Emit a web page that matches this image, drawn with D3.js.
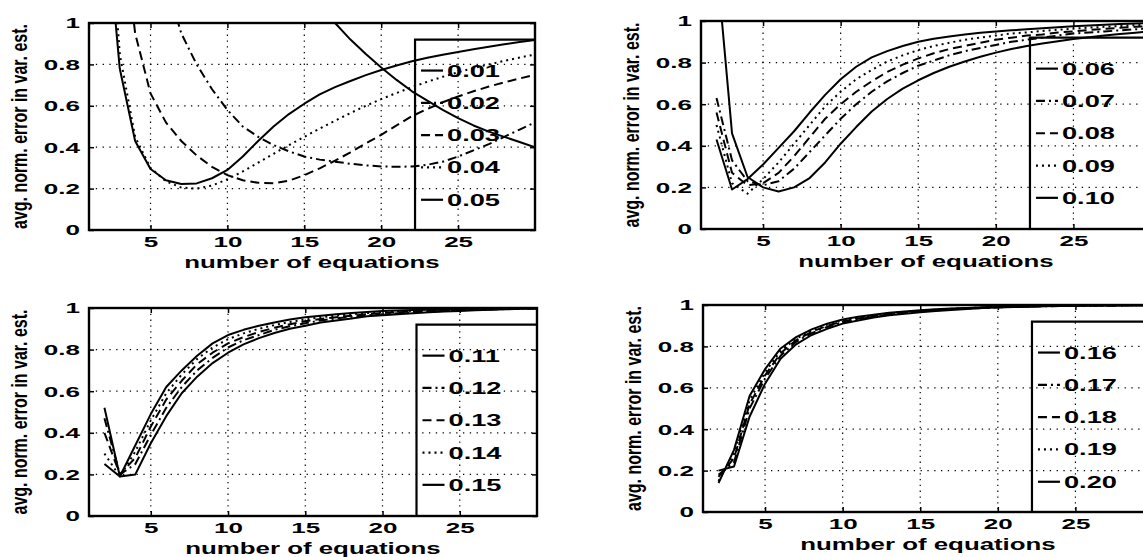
<!DOCTYPE html>
<html>
<head>
<meta charset="utf-8">
<script src="https://cdn.jsdelivr.net/npm/d3@7"></script>
<style>
  html, body { margin: 0; background: #fff; }
  svg { display: block; }
</style>
</head>
<body>
<div id="chart"></div>
<script>
// number of equations (x) and axis ticks
const equations = [2,3,4,5,6,7,8,9,10,11,12,13,14,15,16,17,18,19,20,21,22,23,24,25,26,27,28,29,30];
const xTicks = [5, 10, 15, 20, 25];
const yTicks = [0, 0.2, 0.4, 0.6, 0.8, 1];
const yTickLabels = ['0', '0.2', '0.4', '0.6', '0.8', '1'];

// legend labels per panel
const labels1 = ['0.01', '0.02', '0.03', '0.04', '0.05'];
const labels2 = ['0.06', '0.07', '0.08', '0.09', '0.10'];
const labels3 = ['0.11', '0.12', '0.13', '0.14', '0.15'];
const labels4 = ['0.16', '0.17', '0.18', '0.19', '0.20'];

// avg. norm. error, panel 1 (null = off the top of the chart)
const err001 = [null,null,null,null,null,null,null,null,null,null,null,null,null,null,1.08,1.0,0.92,0.85,0.785,0.725,0.67,0.625,0.58,0.54,0.505,0.475,0.45,0.425,0.40];
const err002 = [null,null,null,null,1.2,0.95,0.8,0.68,0.58,0.5,0.45,0.41,0.38,0.355,0.34,0.33,0.32,0.312,0.307,0.305,0.307,0.315,0.33,0.355,0.385,0.415,0.45,0.485,0.52];
const err003 = [null,1.6,0.95,0.66,0.52,0.43,0.36,0.305,0.265,0.24,0.228,0.226,0.238,0.265,0.298,0.335,0.375,0.418,0.46,0.505,0.55,0.585,0.617,0.645,0.67,0.693,0.713,0.732,0.75];
const err004 = [1.9,0.85,0.45,0.3,0.235,0.205,0.2,0.215,0.245,0.283,0.325,0.368,0.41,0.45,0.49,0.528,0.565,0.6,0.632,0.662,0.69,0.716,0.74,0.762,0.782,0.8,0.817,0.833,0.848];
const err005 = [1.6,0.78,0.43,0.295,0.24,0.222,0.225,0.25,0.29,0.355,0.43,0.5,0.56,0.61,0.655,0.69,0.72,0.748,0.773,0.795,0.815,0.832,0.847,0.86,0.873,0.885,0.897,0.908,0.918];

// panel 2
const err006 = [1.29,0.46,0.25,0.2,0.18,0.2,0.245,0.32,0.41,0.49,0.565,0.625,0.675,0.715,0.75,0.78,0.805,0.828,0.848,0.865,0.88,0.892,0.903,0.913,0.922,0.93,0.937,0.944,0.95];
const err007 = [0.63,0.33,0.23,0.21,0.23,0.29,0.37,0.45,0.53,0.6,0.66,0.71,0.75,0.785,0.81,0.835,0.855,0.87,0.885,0.9,0.91,0.92,0.93,0.94,0.945,0.95,0.955,0.96,0.965];
const err008 = [0.56,0.27,0.21,0.22,0.27,0.35,0.44,0.53,0.6,0.66,0.71,0.755,0.79,0.82,0.845,0.865,0.88,0.895,0.91,0.92,0.93,0.935,0.945,0.95,0.957,0.962,0.967,0.972,0.976];
const err009 = [0.5,0.22,0.17,0.24,0.32,0.41,0.5,0.59,0.66,0.72,0.765,0.805,0.835,0.86,0.88,0.895,0.91,0.92,0.93,0.94,0.945,0.952,0.958,0.963,0.968,0.972,0.976,0.98,0.983];
const err010 = [0.43,0.19,0.24,0.31,0.39,0.47,0.56,0.645,0.72,0.78,0.825,0.855,0.88,0.9,0.915,0.925,0.935,0.943,0.95,0.955,0.96,0.965,0.97,0.975,0.978,0.982,0.985,0.988,0.99];

// panel 3
const err011 = [0.52,0.19,0.2,0.35,0.48,0.59,0.67,0.735,0.785,0.825,0.855,0.88,0.9,0.915,0.93,0.94,0.95,0.96,0.965,0.97,0.975,0.979,0.983,0.986,0.989,0.992,0.994,0.996,0.998];
const err012 = [0.47,0.2,0.25,0.39,0.52,0.62,0.7,0.76,0.81,0.845,0.87,0.895,0.912,0.927,0.94,0.95,0.958,0.965,0.97,0.975,0.98,0.983,0.986,0.989,0.991,0.993,0.995,0.997,0.998];
const err013 = [0.4,0.2,0.28,0.43,0.56,0.65,0.73,0.785,0.83,0.86,0.885,0.905,0.922,0.936,0.947,0.956,0.963,0.97,0.975,0.979,0.983,0.986,0.988,0.99,0.992,0.994,0.996,0.997,0.998];
const err014 = [0.3,0.19,0.31,0.46,0.59,0.68,0.755,0.81,0.85,0.878,0.9,0.918,0.933,0.945,0.955,0.963,0.97,0.976,0.98,0.984,0.987,0.989,0.991,0.993,0.995,0.996,0.997,0.998,0.999];
const err015 = [0.25,0.19,0.34,0.49,0.62,0.7,0.77,0.83,0.87,0.895,0.915,0.93,0.945,0.955,0.963,0.97,0.976,0.981,0.985,0.988,0.99,0.992,0.994,0.995,0.996,0.997,0.998,0.999,1.0];

// panel 4
const err016 = [0.2,0.22,0.46,0.62,0.74,0.81,0.855,0.885,0.91,0.925,0.94,0.95,0.958,0.965,0.971,0.976,0.981,0.985,0.988,0.99,0.992,0.994,0.995,0.996,0.997,0.998,0.998,0.999,0.999];
const err017 = [0.18,0.24,0.5,0.645,0.755,0.822,0.864,0.894,0.916,0.931,0.944,0.954,0.962,0.968,0.974,0.979,0.983,0.986,0.989,0.991,0.993,0.994,0.995,0.996,0.997,0.998,0.998,0.999,0.999];
const err018 = [0.17,0.26,0.52,0.66,0.767,0.83,0.87,0.9,0.92,0.935,0.947,0.957,0.965,0.971,0.976,0.98,0.984,0.987,0.99,0.992,0.993,0.995,0.996,0.997,0.997,0.998,0.999,0.999,1.0];
const err019 = [0.15,0.28,0.54,0.675,0.778,0.837,0.876,0.905,0.925,0.939,0.95,0.96,0.967,0.973,0.978,0.982,0.985,0.988,0.99,0.992,0.994,0.995,0.996,0.997,0.998,0.998,0.999,0.999,1.0];
const err020 = [0.14,0.3,0.56,0.69,0.79,0.845,0.882,0.91,0.93,0.943,0.953,0.962,0.969,0.975,0.979,0.983,0.986,0.989,0.991,0.993,0.994,0.995,0.996,0.997,0.998,0.998,0.999,0.999,1.0];

const panels = [
  { box: { left: 89,  right: 535,  top: 23,  bottom: 230 }, labels: labels1, series: [err001, err002, err003, err004, err005] },
  { box: { left: 701, right: 1151, top: 21,  bottom: 229 }, labels: labels2, series: [err006, err007, err008, err009, err010] },
  { box: { left: 89,  right: 537,  top: 308, bottom: 516 }, labels: labels3, series: [err011, err012, err013, err014, err015] },
  { box: { left: 703, right: 1153, top: 305, bottom: 512 }, labels: labels4, series: [err016, err017, err018, err019, err020] },
];

// line styles in legend order: solid, dash-dot, dashed, dotted, solid
const DASH = [null, '9,4,2,4', '9,5', '2,4', null];

const W = 1143, H = 557;
const FONT = '"Liberation Sans", Arial, sans-serif';
const SX = 1.68; // scanned type is very wide

const svg = d3.select('#chart').append('svg')
  .attr('width', W).attr('height', H)
  .attr('viewBox', `0 0 ${W} ${H}`);

panels.forEach((p, pi) => {
  const b = p.box;
  const x = d3.scaleLinear([1, 30], [b.left, b.right]);
  const y = d3.scaleLinear([0, 1], [b.bottom, b.top]);
  const g = svg.append('g');

  const clipId = `clip${pi}`;
  svg.append('clipPath').attr('id', clipId)
    .append('rect')
    .attr('x', b.left).attr('y', b.top)
    .attr('width', b.right - b.left).attr('height', b.bottom - b.top);

  // dotted grid
  g.append('g').selectAll('line').data(xTicks).join('line')
    .attr('x1', d => x(d)).attr('x2', d => x(d))
    .attr('y1', b.top).attr('y2', b.bottom)
    .attr('stroke', '#000').attr('stroke-width', 1.2).attr('stroke-dasharray', '1.3,4.5');
  g.append('g').selectAll('line').data(yTicks.slice(1, -1)).join('line')
    .attr('x1', b.left).attr('x2', b.right)
    .attr('y1', d => y(d)).attr('y2', d => y(d))
    .attr('stroke', '#000').attr('stroke-width', 1.2).attr('stroke-dasharray', '1.3,5.5');

  // axes (ticks inward)
  const ax = g.append('g').attr('transform', `translate(0,${b.bottom})`)
    .call(d3.axisBottom(x).tickValues(xTicks).tickSize(-5).tickSizeOuter(0).tickPadding(6));
  ax.selectAll('text')
    .attr('transform', `scale(${SX},1)`);
  const ay = g.append('g').attr('transform', `translate(${b.left},0)`)
    .call(d3.axisLeft(y).tickValues(yTicks).tickSize(-5).tickSizeOuter(0).tickPadding(9)
      .tickFormat((d, i) => yTickLabels[i]));
  ay.selectAll('text')
    .attr('x', -9 / SX)
    .attr('transform', `scale(${SX},1)`);
  g.append('g').attr('transform', `translate(0,${b.top})`)
    .call(d3.axisTop(x).tickValues(xTicks).tickSize(-5).tickSizeOuter(0).tickFormat(''));
  g.append('g').attr('transform', `translate(${b.right},0)`)
    .call(d3.axisRight(y).tickValues(yTicks).tickSize(-5).tickSizeOuter(0).tickFormat(''));
  g.selectAll('.domain').remove();
  g.selectAll('.tick line').attr('stroke', '#000').attr('stroke-width', 1.5);
  g.selectAll('.tick text')
    .attr('font-family', FONT).attr('font-weight', 'bold').attr('font-size', 15.5)
    .attr('fill', '#000');

  // curves
  const line = d3.line()
    .defined(d => d[1] != null)
    .x(d => x(d[0])).y(d => y(d[1]));
  const curves = g.append('g').attr('clip-path', `url(#${clipId})`);
  p.series.forEach((vals, si) => {
    curves.append('path')
      .datum(equations.map((e, k) => [e, vals[k]]))
      .attr('d', line)
      .attr('fill', 'none').attr('stroke', '#000')
      .attr('stroke-width', 2)
      .attr('stroke-linejoin', 'round')
      .attr('stroke-dasharray', DASH[si]);
  });

  // legend (transparent box, left + top edges visible)
  const lx = x(22.2), ly = y(0.92);
  g.append('path')
    .attr('d', `M${lx},${b.bottom}V${ly}H${b.right}`)
    .attr('fill', 'none').attr('stroke', '#000').attr('stroke-width', 2.2);
  p.labels.forEach((lab, si) => {
    const cy = ly + 31 + si * 32.3;
    g.append('line')
      .attr('x1', lx + 6).attr('x2', lx + 28)
      .attr('y1', cy).attr('y2', cy)
      .attr('stroke', '#000').attr('stroke-width', 2.2)
      .attr('stroke-dasharray', DASH[si]);
    g.append('text')
      .attr('transform', `translate(${lx + 32},${cy + 6}) scale(1.65,1)`)
      .attr('font-family', FONT).attr('font-weight', 'bold').attr('font-size', 16.5)
      .text(lab);
  });

  // frame
  g.append('rect')
    .attr('x', b.left).attr('y', b.top)
    .attr('width', b.right - b.left).attr('height', b.bottom - b.top)
    .attr('fill', 'none').attr('stroke', '#000').attr('stroke-width', 2.4);

  // axis titles
  g.append('text')
    .attr('transform', `translate(${(b.left + b.right) / 2},${b.bottom + 38}) scale(1.52,1)`)
    .attr('text-anchor', 'middle')
    .attr('font-family', FONT).attr('font-weight', 'bold').attr('font-size', 17)
    .text('number of equations');
  g.append('text')
    .attr('transform', `translate(${b.left - 62},${(b.top + b.bottom) / 2}) rotate(-90) scale(1,1.35)`)
    .attr('text-anchor', 'middle')
    .attr('font-family', FONT).attr('font-weight', 'bold').attr('font-size', 16)
    .attr('textLength', 205).attr('lengthAdjust', 'spacingAndGlyphs')
    .text('avg. norm. error in var. est.');
});
</script>
</body>
</html>
